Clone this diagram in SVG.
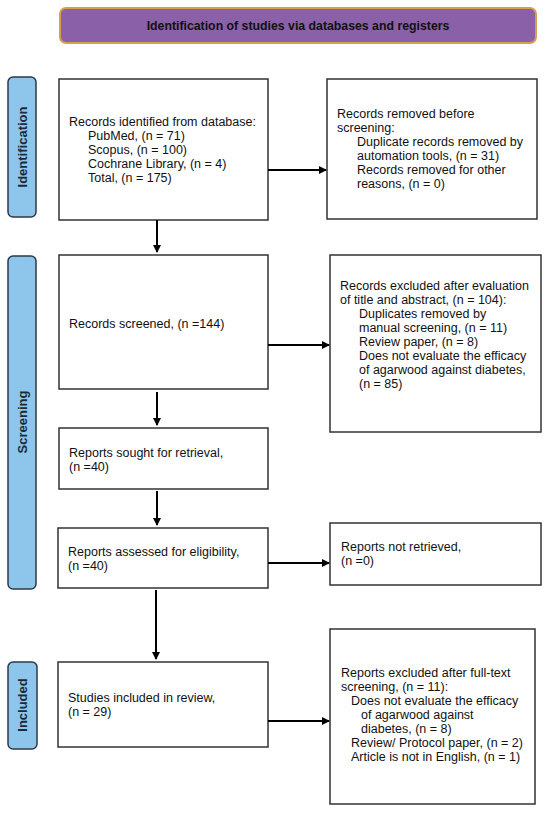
<svg xmlns="http://www.w3.org/2000/svg" width="550" height="816" viewBox="0 0 550 816">
<style>
text{font-family:"Liberation Sans",Arial,sans-serif;font-size:12.5px;fill:#111}
.box{fill:#fff;stroke:#333;stroke-width:1.5}
.side{fill:#8EC5EA;stroke:#2b3a48;stroke-width:1.5}
.lab{font-weight:bold;font-size:13px;fill:#1c2b3a;text-anchor:middle}
.con{stroke:#000;stroke-width:2;fill:none;marker-end:url(#ah)}
</style>
<defs>
<marker id="ah" markerWidth="8" markerHeight="8" refX="7" refY="4" orient="auto" markerUnits="userSpaceOnUse">
<path d="M0,0 L8,4 L0,8 z" fill="#000"/>
</marker>
</defs>
<rect width="550" height="816" fill="#fff"/>
<g id="title">
<rect x="60" y="8" width="476" height="35" rx="6" fill="#8A60A8" stroke="#D4A050" stroke-width="2"/>
<text x="298" y="29.5" style="font-weight:bold;font-size:12.3px;text-anchor:middle">Identification of studies via databases and registers</text>
</g>
<g id="lab-identification">
<rect class="side" x="8" y="77" width="28" height="140" rx="5"/>
<text class="lab" transform="translate(26.5,147) rotate(-90)">Identification</text>
</g>
<g id="lab-screening">
<rect class="side" x="8" y="256" width="28" height="333" rx="5"/>
<text class="lab" transform="translate(26.5,422) rotate(-90)">Screening</text>
</g>
<g id="lab-included">
<rect class="side" x="8" y="662" width="29" height="87" rx="5"/>
<text class="lab" transform="translate(27,705) rotate(-90)">Included</text>
</g>
<g id="n-identified">
<rect class="box" x="59" y="79" width="209" height="141"/>
<text x="69" y="126">Records identified from database:</text>
<text x="88" y="140">PubMed, (n = 71)</text>
<text x="88" y="154">Scopus, (n = 100)</text>
<text x="88" y="168">Cochrane Library, (n = 4)</text>
<text x="88" y="182">Total, (n = 175)</text>
</g>
<g id="n-removed">
<rect class="box" x="327" y="79" width="210" height="140"/>
<text x="337" y="118">Records removed before</text>
<text x="337" y="132">screening:</text>
<text x="357" y="146">Duplicate records removed by</text>
<text x="357" y="160">automation tools, (n = 31)</text>
<text x="357" y="174">Records removed for other</text>
<text x="357" y="188">reasons, (n = 0)</text>
</g>
<g id="n-screened">
<rect class="box" x="59" y="255" width="209" height="134"/>
<text x="69" y="328">Records screened, (n =144)</text>
</g>
<g id="n-excluded">
<rect class="box" x="330" y="255" width="211" height="177"/>
<text x="340" y="290">Records excluded after evaluation</text>
<text x="340" y="304">of title and abstract, (n = 104):</text>
<text x="359" y="318">Duplicates removed by</text>
<text x="359" y="332">manual screening, (n = 11)</text>
<text x="359" y="346">Review paper, (n = 8)</text>
<text x="359" y="360">Does not evaluate the efficacy</text>
<text x="359" y="374">of agarwood against diabetes,</text>
<text x="359" y="388">(n = 85)</text>
</g>
<g id="n-sought">
<rect class="box" x="59" y="428" width="209" height="61"/>
<text x="69" y="457">Reports sought for retrieval,</text>
<text x="69" y="471">(n =40)</text>
</g>
<g id="n-assessed">
<rect class="box" x="58" y="528" width="210" height="60"/>
<text x="68" y="556">Reports assessed for eligibility,</text>
<text x="68" y="570">(n =40)</text>
</g>
<g id="n-notretrieved">
<rect class="box" x="330" y="523" width="211" height="62"/>
<text x="341" y="551">Reports not retrieved,</text>
<text x="341" y="565">(n =0)</text>
</g>
<g id="n-included">
<rect class="box" x="58" y="662" width="210" height="85"/>
<text x="68" y="702">Studies included in review,</text>
<text x="68" y="716">(n = 29)</text>
</g>
<g id="n-fulltext">
<rect class="box" x="330" y="629" width="205" height="175"/>
<text x="341" y="677">Reports excluded after full-text</text>
<text x="341" y="691">screening, (n = 11):</text>
<text x="351" y="705">Does not evaluate the efficacy</text>
<text x="361" y="719">of agarwood against</text>
<text x="361" y="733">diabetes, (n = 8)</text>
<text x="351" y="747">Review/ Protocol paper, (n = 2)</text>
<text x="351" y="761">Article is not in English, (n = 1)</text>
</g>
<g id="connectors">
<line class="con" x1="268" y1="170" x2="326" y2="170"/>
<line class="con" x1="157" y1="220" x2="157" y2="252"/>
<line class="con" x1="268" y1="345" x2="329" y2="345"/>
<line class="con" x1="157" y1="392" x2="157" y2="425"/>
<line class="con" x1="157" y1="491" x2="157" y2="525"/>
<line class="con" x1="268" y1="563" x2="329" y2="563"/>
<line class="con" x1="156" y1="590" x2="156" y2="659"/>
<line class="con" x1="268" y1="721" x2="329" y2="721"/>
</g>
</svg>
